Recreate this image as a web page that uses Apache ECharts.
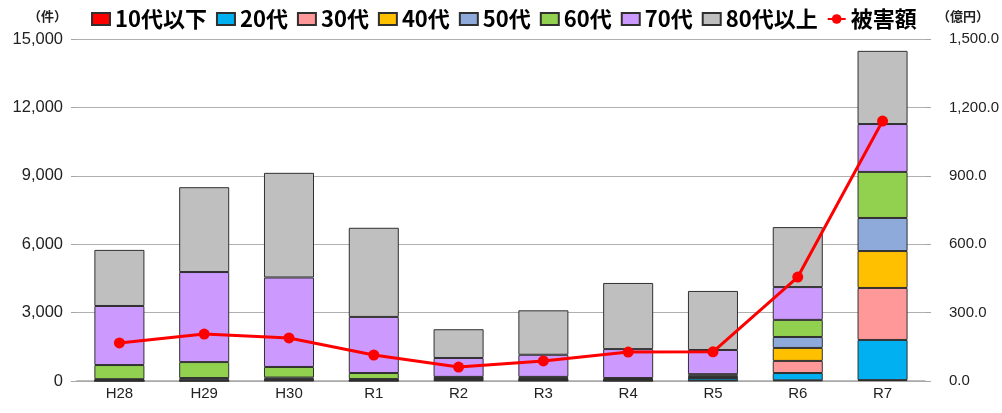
<!DOCTYPE html>
<html>
<head>
<meta charset="utf-8">
<script src="https://cdn.jsdelivr.net/npm/echarts@6/dist/echarts.min.js"></script>
<style>
html,body{margin:0;padding:0;background:#fff;}
#chart{width:1002px;height:413px;}
</style>
</head>
<body>
<div id="chart"></div>
<script>
// categories
var years = ['H28','H29','H30','R1','R2','R3','R4','R5','R6','R7'];

// 件数 by age group
var age10 = [5, 5, 20, 10, 30, 20, 10, 20, 30, 40];
var age20 = [10, 10, 20, 10, 30, 20, 15, 110, 320, 1760];
var age30 = [15, 15, 25, 15, 30, 20, 15, 30, 530, 2280];
var age40 = [20, 25, 35, 20, 30, 25, 20, 30, 570, 1620];
var age50 = [30, 75, 50, 30, 30, 30, 20, 40, 480, 1450];
var age60 = [620, 700, 465, 265, 30, 65, 50, 70, 750, 2020];
var age70 = [2590, 3950, 3925, 2460, 830, 970, 1270, 1060, 1440, 2100];
var age80 = [2460, 3720, 4590, 3910, 1260, 1950, 2900, 2590, 2630, 3210];

// 被害額 (億円)
var damage = [167, 206, 189, 114, 61, 88, 127, 128, 456, 1140];

var fontJP = '"Noto Sans CJK JP", "Noto Sans", sans-serif';
var fontNum = '"Liberation Sans", Arial, sans-serif';

var myChart = echarts.init(document.getElementById('chart'));

function barSeries(name, data, color){
	return {
		name: name,
		type: 'bar',
		stack: 'cnt',
		barCategoryGap: '41%',
		itemStyle: {
			color: color,
			borderColor: '#303030',
			borderWidth: 1
		},
		data: data
	};
}

var legendNames = ['10代以下','20代','30代','40代','50代','60代','70代','80代以上'];
var legendData = legendNames.map(function(n){ return {name: n, icon: 'rect'}; });
legendData.push({name: '被害額'});

var option = {
	backgroundColor: '#fff',
	animation: false,
	textStyle: {fontFamily: fontJP},
	legend: {
		top: 3,
		left: 86,
		itemGap: 9,
		itemWidth: 18,
		itemHeight: 12,
		textStyle: {fontSize: 22, fontWeight: 'bold', color: '#000', fontFamily: fontJP},
		data: legendData
	},
	grid: {left: 77, right: 75, top: 39, bottom: 32},
	xAxis: {
		type: 'category',
		data: years,
		axisLine: {lineStyle: {color: '#a6a6a6', width: 1.5}},
		axisTick: {show: false},
		axisLabel: {color: '#222', fontSize: 15, margin: 5, fontFamily: fontNum}
	},
	yAxis: [{
		type: 'value',
		min: 0,
		max: 15000,
		interval: 3000,
		name: '（件）',
		nameLocation: 'end',
		nameGap: 16,
		nameTextStyle: {fontSize: 13, fontWeight: 'bold', color: '#222', align: 'right', padding: [0, 10, 0, 0]},
		axisLine: {show: false},
		axisTick: {show: true, length: 6, lineStyle: {color: '#a6a6a6'}},
		splitLine: {lineStyle: {color: '#b0b0b0'}},
		axisLabel: {
			color: '#222', fontSize: 16.5, margin: 14,
			fontFamily: fontNum,
			formatter: function(v){ return v.toLocaleString('en-US'); }
		}
	},{
		type: 'value',
		min: 0,
		max: 1500,
		interval: 300,
		name: '（億円）',
		nameLocation: 'end',
		nameGap: 16,
		nameTextStyle: {fontSize: 13, fontWeight: 'bold', color: '#222', align: 'left', padding: [0, 0, 0, 12]},
		axisLine: {show: false},
		axisTick: {show: true, length: 6, lineStyle: {color: '#a6a6a6'}},
		splitLine: {show: false},
		axisLabel: {
			color: '#222', fontSize: 15, margin: 24,
			fontFamily: fontNum,
			formatter: function(v){ return v.toLocaleString('en-US', {minimumFractionDigits: 1, maximumFractionDigits: 1}); }
		}
	}],
	series: [
		barSeries('10代以下', age10, '#ff0000'),
		barSeries('20代', age20, '#00b0f0'),
		barSeries('30代', age30, '#ff9999'),
		barSeries('40代', age40, '#ffc000'),
		barSeries('50代', age50, '#8eaadb'),
		barSeries('60代', age60, '#92d050'),
		barSeries('70代', age70, '#cc99ff'),
		barSeries('80代以上', age80, '#bfbfbf'),
		{
			name: '被害額',
			type: 'line',
			yAxisIndex: 1,
			symbol: 'circle',
			symbolSize: 11,
			itemStyle: {color: '#ff0000'},
			lineStyle: {color: '#ff0000', width: 3},
			data: damage,
			z: 5
		}
	]
};

myChart.setOption(option);
</script>
</body>
</html>
